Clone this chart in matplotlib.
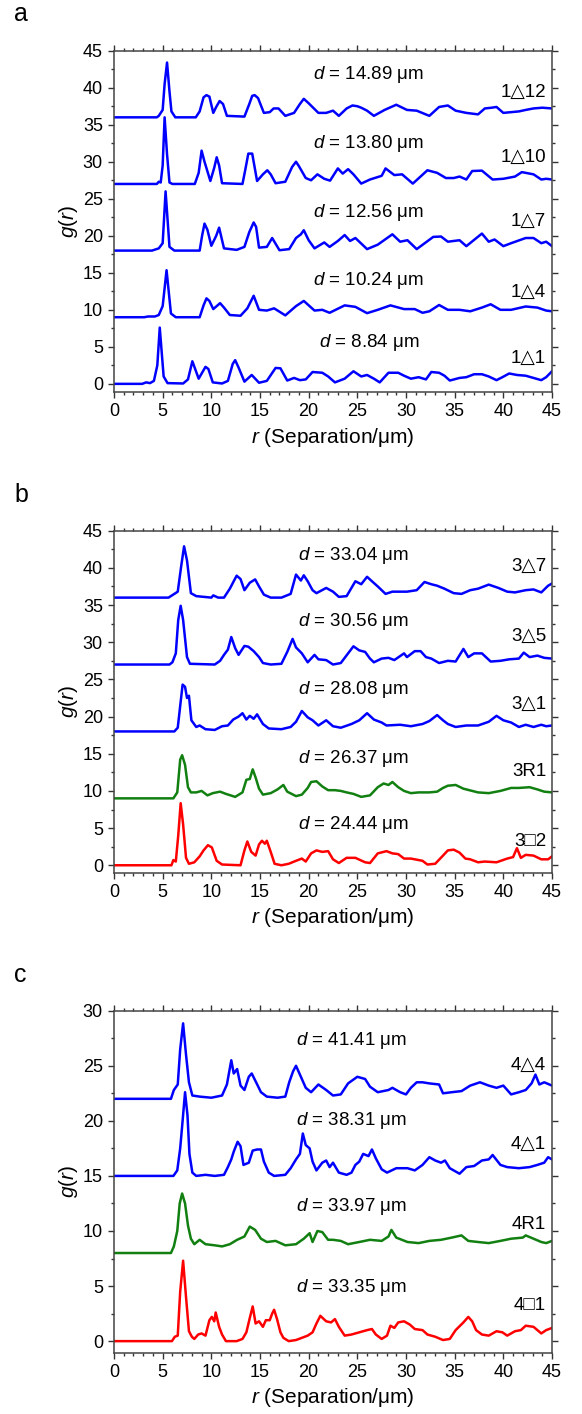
import matplotlib
matplotlib.use("Agg")
import matplotlib.pyplot as plt
from matplotlib.ticker import MultipleLocator

plt.rcParams['font.family'] = ['Liberation Sans', 'DejaVu Sans']
plt.rcParams['mathtext.fontset'] = 'custom'
plt.rcParams['mathtext.rm'] = 'Liberation Sans'
plt.rcParams['mathtext.it'] = 'Liberation Sans:italic'

BLUE = '#0000ff'
GREEN = '#118011'
RED = '#ff0000'

# ---- panel a: 1-series, offsets 36 / 27 / 18 / 9 / 0 ----
r_1t12 = [0, 4.4, 4.6, 5.0, 5.2, 5.45, 5.7, 5.9, 6.3, 8.4, 8.8, 9.2, 9.5, 9.8, 10.2, 10.5, 10.85, 11.2,
          11.6, 13.4, 13.9, 14.2, 14.45, 14.8, 15.4, 16.0, 16.4, 16.9, 17.6, 18.5, 19.1, 19.5, 20.0,
          21.0, 21.8, 22.5, 23.1, 23.9, 24.5, 25.0, 25.4, 26.0, 26.7, 27.8, 29.0, 30.1, 31.1, 32.4,
          33.4, 34.3, 35.1, 36.2, 37.4, 38.1, 38.8, 39.3, 40.0, 41.6, 42.3, 43.1, 44.0, 45.0]
g_1t12 = [36.0, 36.0, 36.2, 37.0, 40.5, 43.4, 39.5, 36.8, 36.0, 36.0, 36.8, 38.7, 39.0, 38.8, 36.6, 37.4,
          38.2, 37.8, 36.2, 36.1, 37.8, 38.9, 39.0, 38.6, 36.6, 36.7, 37.2, 37.2, 36.2, 36.6, 37.8, 38.5,
          37.9, 36.6, 36.6, 36.9, 36.2, 37.2, 37.6, 37.5, 37.3, 36.9, 36.2, 37.0, 37.7, 37.0, 36.9, 36.2,
          37.4, 37.6, 36.9, 36.6, 36.4, 37.2, 37.3, 37.4, 36.6, 36.8, 37.0, 37.2, 37.3, 37.2]

r_1t10 = [0, 4.4, 4.6, 4.8, 5.0, 5.2, 5.45, 5.7, 6.0, 8.3, 8.7, 9.0, 9.3, 9.9, 10.3, 10.55, 10.8, 11.1,
          13.2, 13.5, 13.8, 14.2, 14.7, 15.3, 15.75, 16.1, 16.6, 17.6, 18.3, 18.7, 19.0, 19.7, 20.25,
          20.9, 21.6, 22.2, 23.0, 23.5, 24.05, 24.6, 25.4, 26.3, 27.5, 27.9, 28.8, 29.6, 30.7, 32.2,
          33.2, 34.1, 34.9, 35.5, 36.2, 36.8, 37.8, 38.9, 40.0, 41.2, 41.9, 43.1, 43.9, 44.4, 45.0]
g_1t10 = [27.0, 27.0, 27.3, 27.2, 29.5, 36.0, 31.0, 27.2, 27.0, 27.0, 28.5, 31.5, 30.0, 27.4, 29.2, 30.6,
          29.5, 27.1, 27.0, 29.0, 31.1, 31.1, 27.4, 28.3, 28.85, 28.3, 27.1, 27.3, 29.3, 30.0, 29.4, 27.8,
          27.5, 28.3, 27.7, 27.45, 29.1, 28.4, 29.0, 28.3, 27.05, 27.6, 28.1, 29.1, 28.2, 28.3, 27.05,
          28.85, 28.5, 27.8, 27.8, 28.0, 27.6, 28.75, 28.8, 27.6, 27.7, 28.0, 28.6, 28.3, 27.6, 27.7, 27.6]

r_1t7 = [0, 3.9, 4.6, 5.0, 5.3, 5.7, 6.2, 8.8, 9.05, 9.3, 9.6, 10.0, 10.5, 10.8, 11.3, 12.6, 13.4, 13.9,
         14.35, 14.6, 14.9, 15.7, 16.25, 17.0, 18.0, 18.7, 19.2, 19.5, 20.0, 20.6, 21.6, 22.15, 23.0,
         23.7, 24.25, 24.8, 26.0, 27.1, 28.6, 29.4, 30.15, 31.1, 32.8, 33.6, 34.3, 35.5, 36.2, 37.8,
         38.5, 39.1, 40.0, 40.8, 42.3, 43.1, 43.9, 44.4, 45.0]
g_1t7 = [18.0, 18.0, 18.3, 19.0, 26.0, 18.5, 18.0, 18.0, 20.0, 21.65, 20.8, 18.65, 20.0, 21.1, 18.3,
         18.1, 18.5, 20.5, 21.8, 21.2, 18.4, 18.5, 19.7, 18.05, 18.2, 19.7, 20.2, 20.75, 19.4, 18.3,
         19.1, 18.5, 19.3, 20.1, 19.3, 19.7, 18.2, 18.8, 20.2, 19.2, 19.4, 18.2, 19.85, 19.9, 19.2, 19.4,
         18.6, 20.3, 19.2, 19.5, 18.6, 19.0, 19.7, 19.7, 19.0, 19.2, 18.6]

r_1t4 = [0, 3.1, 3.5, 4.2, 4.6, 5.0, 5.4, 5.85, 6.35, 8.8, 9.2, 9.5, 9.8, 10.2, 10.9, 11.3, 11.9, 13.0,
         13.7, 14.35, 14.9, 15.7, 16.45, 17.6, 18.7, 19.5, 20.6, 21.4, 22.15, 23.7, 24.8, 26.0, 27.1,
         28.4, 29.8, 30.9, 31.7, 32.4, 33.4, 34.3, 35.5, 36.6, 37.8, 38.7, 39.7, 40.8, 42.3, 43.5,
         44.4, 45.0]
g_1t4 = [9.0, 9.0, 9.1, 9.1, 9.3, 10.5, 15.35, 9.5, 9.0, 9.0, 10.6, 11.55, 11.2, 10.1, 10.9, 10.3, 9.3,
         9.2, 10.2, 11.9, 10.0, 9.9, 10.2, 9.25, 10.5, 11.2, 9.9, 10.0, 9.6, 10.6, 10.4, 9.55, 10.0,
         10.6, 10.1, 10.1, 9.6, 9.8, 10.65, 10.0, 10.0, 9.8, 10.3, 10.75, 10.0, 10.0, 10.45, 10.3, 9.9,
         9.8]

r_1t1 = [0, 2.9, 3.3, 3.7, 4.1, 4.45, 4.7, 5.1, 5.5, 7.1, 7.6, 8.05, 8.7, 9.4, 9.7, 10.15, 11.1, 11.7,
         12.2, 12.45, 12.8, 13.4, 14.15, 14.9, 15.7, 16.6, 17.1, 17.8, 18.5, 19.1, 19.7, 20.4, 21.4,
         22.0, 22.7, 23.7, 24.6, 25.4, 26.0, 26.7, 27.3, 28.2, 29.2, 29.8, 30.5, 31.3, 32.05, 32.6,
         33.4, 33.95, 34.5, 35.5, 36.2, 37.0, 37.8, 38.5, 39.3, 39.9, 40.6, 41.4, 42.3, 43.1, 43.9,
         44.4, 45.0]
g_1t1 = [0.0, 0.0, 0.2, 0.1, 0.4, 2.5, 7.6, 1.0, 0.1, 0.05, 0.6, 3.05, 0.7, 2.3, 2.0, 0.2, 0.05, 0.4,
         2.7, 3.2, 2.2, 0.3, 1.2, 0.15, 0.4, 2.15, 2.1, 0.45, 0.8, 0.5, 0.6, 1.6, 1.5, 1.0, 0.2, 0.7,
         1.7, 1.0, 1.2, 0.7, 0.2, 1.5, 1.5, 1.1, 0.7, 0.9, 0.6, 1.6, 1.5, 1.1, 0.45, 0.8, 0.9, 1.3, 1.3,
         1.0, 0.5, 0.9, 1.4, 1.2, 1.1, 0.8, 0.5, 0.9, 1.7]

# ---- panel b: 3-series, offsets 36 / 27 / 18 / 9 / 0 ----
r_3t7 = [0, 5.6, 6.2, 6.55, 6.9, 7.2, 7.5, 7.9, 8.45, 10.0, 10.2, 10.7, 11.3, 11.9, 12.6, 13.0, 13.4,
         13.95, 14.5, 14.9, 15.4, 16.1, 17.2, 18.15, 18.7, 19.2, 19.5, 19.9, 20.4, 20.8, 21.8, 22.5,
         23.1, 23.9, 24.8, 25.4, 26.0, 26.5, 27.1, 27.9, 28.6, 30.1, 31.1, 31.9, 32.6, 33.2, 33.95,
         34.9, 35.7, 36.6, 37.4, 38.5, 39.5, 40.4, 41.2, 42.3, 43.1, 43.9, 44.6, 45.0]
g_3t7 = [36.0, 36.0, 36.5, 36.8, 40.2, 42.9, 41.0, 36.6, 36.2, 36.0, 36.3, 36.0, 36.0, 37.2, 38.95,
         38.5, 37.0, 38.0, 38.45, 37.5, 36.4, 36.0, 36.0, 36.5, 39.1, 38.3, 39.0, 38.2, 37.0, 36.6,
         37.3, 36.8, 36.1, 36.2, 38.2, 37.8, 38.8, 38.2, 37.5, 36.5, 36.8, 36.8, 37.0, 38.1, 37.8,
         37.6, 37.2, 36.6, 36.5, 37.0, 37.2, 37.75, 37.3, 36.8, 36.7, 37.0, 37.1, 36.7, 37.6, 37.9]

r_3t5 = [0, 5.7, 6.0, 6.35, 6.6, 6.85, 7.1, 7.5, 7.8, 10.35, 10.9, 11.3, 11.7, 12.05, 12.45, 12.8,
         13.4, 13.8, 14.35, 14.9, 15.3, 16.1, 17.2, 17.8, 18.35, 18.7, 19.3, 19.9, 20.6, 21.0, 21.8,
         22.5, 23.3, 24.05, 24.6, 25.2, 25.8, 26.3, 26.7, 27.5, 28.2, 28.8, 29.8, 30.1, 30.9, 31.5,
         32.05, 32.6, 33.4, 34.3, 35.1, 35.9, 36.4, 37.0, 37.8, 38.7, 39.7, 40.6, 41.6, 42.1, 42.7,
         43.5, 44.2, 45.0]
g_3t5 = [27.0, 27.0, 27.3, 28.5, 33.0, 34.9, 33.0, 28.0, 27.1, 27.0, 27.5, 28.3, 29.0, 30.7, 29.2,
         28.3, 29.5, 29.4, 28.8, 28.0, 27.2, 27.0, 27.1, 28.7, 30.45, 29.3, 28.5, 27.3, 28.3, 27.7,
         27.6, 27.0, 27.2, 28.5, 29.45, 28.9, 28.7, 27.8, 27.3, 27.8, 27.9, 27.6, 28.5, 28.0, 28.8,
         28.8, 28.0, 27.8, 27.2, 27.5, 27.4, 29.1, 28.0, 28.5, 28.5, 27.4, 27.5, 27.7, 27.8, 28.6,
         28.0, 28.2, 27.9, 27.8]

r_3t1 = [0, 6.2, 6.55, 6.85, 7.05, 7.3, 7.5, 7.7, 7.95, 8.45, 8.8, 9.4, 10.35, 11.1, 11.7, 12.25,
         12.8, 13.2, 13.6, 13.95, 14.35, 14.7, 15.3, 15.9, 17.2, 18.15, 18.7, 19.3, 19.9, 20.4, 21.0,
         21.8, 22.5, 23.3, 24.4, 25.2, 26.0, 26.7, 27.5, 28.0, 29.4, 30.5, 31.7, 32.4, 33.2, 33.8,
         34.3, 35.1, 36.2, 37.4, 38.5, 39.3, 40.0, 40.8, 41.6, 42.3, 43.1, 43.9, 44.4, 45.0]
g_3t1 = [18.0, 18.0, 18.5, 22.0, 24.3, 24.0, 22.5, 22.8, 19.5, 18.6, 18.8, 18.3, 18.2, 18.7, 18.8,
         19.6, 20.0, 20.45, 19.6, 20.1, 19.7, 20.3, 19.0, 18.4, 18.3, 18.6, 19.3, 20.75, 19.9, 19.5,
         18.8, 19.5, 18.7, 18.5, 19.0, 19.5, 20.45, 19.6, 19.2, 18.8, 18.9, 18.7, 19.0, 19.4, 20.2,
         19.5, 19.0, 18.6, 18.8, 18.8, 19.3, 20.1, 19.5, 19.2, 18.6, 18.9, 18.6, 18.9, 18.7, 18.8]

r_3r1 = [0, 6.1, 6.5, 6.8, 7.0, 7.3, 7.6, 7.9, 8.45, 9.0, 9.6, 10.15, 10.9, 11.5, 12.45, 13.2, 13.6,
         13.95, 14.25, 14.55, 14.9, 15.3, 16.1, 16.8, 17.4, 17.8, 18.7, 19.3, 19.9, 20.25, 20.8, 21.4,
         22.0, 22.7, 23.3, 23.9, 24.6, 25.4, 26.3, 27.1, 27.7, 28.2, 28.6, 29.2, 29.8, 30.5, 31.3,
         32.4, 33.2, 33.8, 34.3, 35.1, 35.9, 36.8, 37.4, 38.5, 39.7, 40.8, 41.6, 42.7, 43.5, 44.2, 45.0]
g_3r1 = [9.0, 9.0, 9.8, 14.2, 14.8, 13.5, 10.5, 9.8, 9.8, 10.0, 9.4, 9.7, 9.9, 9.6, 9.2, 9.8, 11.5,
         11.6, 12.9, 11.8, 10.3, 9.5, 9.7, 10.2, 10.8, 9.9, 9.3, 9.5, 10.4, 11.2, 11.3, 10.6, 10.1,
         10.1, 10.0, 9.8, 9.6, 9.2, 9.4, 10.5, 11.0, 10.8, 11.2, 10.5, 10.0, 9.7, 9.8, 9.8, 9.9, 10.4,
         10.7, 10.8, 10.3, 10.0, 9.8, 9.7, 10.0, 10.4, 10.4, 10.5, 10.2, 9.9, 9.8]

r_3s2 = [0, 5.9, 6.1, 6.35, 6.6, 6.85, 7.1, 7.4, 7.7, 8.25, 8.8, 9.2, 9.65, 10.05, 10.55, 11.1, 13.0,
         13.4, 13.7, 14.1, 14.55, 14.9, 15.2, 15.5, 15.7, 16.1, 16.5, 17.2, 17.95, 18.7, 19.3, 19.7,
         20.25, 20.8, 21.4, 22.0, 22.5, 23.1, 23.9, 24.8, 25.8, 26.3, 27.1, 28.0, 28.6, 29.2, 29.8,
         30.5, 31.7, 32.2, 33.0, 33.8, 34.3, 34.9, 35.5, 36.1, 36.6, 37.4, 38.1, 39.3, 40.4, 41.0,
         41.4, 41.8, 42.3, 43.1, 43.9, 44.6, 45.0]
g_3s2 = [0.0, 0.0, 0.7, 0.5, 4.0, 8.35, 5.5, 1.0, 0.2, 0.4, 1.2, 2.0, 2.7, 2.4, 0.6, 0.1, 0.0, 2.0,
         3.2, 1.8, 1.3, 2.8, 3.3, 2.9, 3.3, 1.8, 0.2, 0.0, 0.2, 0.6, 0.9, 0.5, 1.6, 2.0, 1.8, 1.9, 0.8,
         0.3, 1.0, 1.0, 0.4, 0.3, 1.6, 1.9, 1.6, 1.5, 0.9, 0.9, 0.6, 0.1, 0.2, 1.3, 2.0, 2.1, 1.7, 0.9,
         0.8, 0.4, 0.5, 0.4, 0.9, 1.1, 2.3, 1.0, 1.4, 1.3, 0.8, 0.8, 1.2]

# ---- panel c: 4-series, offsets 22 / 15 / 8 / 0 ----
r_4t4 = [0, 5.85, 6.15, 6.55, 6.8, 7.1, 7.4, 7.7, 8.05, 8.8, 10.0, 11.1, 11.6, 12.05, 12.3, 12.65,
         13.0, 13.4, 13.85, 14.15, 14.6, 15.1, 15.7, 16.8, 17.6, 18.0, 18.4, 18.7, 19.1, 19.7, 20.25,
         21.0, 21.8, 22.5, 23.3, 24.05, 25.0, 25.8, 26.3, 27.1, 28.2, 28.6, 29.4, 30.0, 30.5, 31.1,
         31.7, 32.4, 33.4, 33.8, 34.7, 35.7, 36.6, 37.6, 38.5, 39.3, 40.0, 40.8, 41.6, 42.3, 42.9,
         43.3, 43.7, 44.2, 45.0]
g_4t4 = [22.0, 22.0, 22.8, 23.3, 26.5, 28.85, 26.0, 23.5, 22.3, 22.2, 22.1, 22.3, 23.3, 25.5, 24.3,
         24.7, 23.2, 22.8, 24.0, 24.3, 23.5, 22.6, 22.2, 22.1, 22.2, 23.5, 24.5, 25.0, 24.2, 23.0,
         22.6, 23.3, 22.8, 22.3, 22.4, 23.4, 24.0, 23.8, 23.1, 22.6, 22.8, 23.0, 22.6, 22.4, 23.0,
         23.5, 23.5, 23.4, 23.3, 22.5, 22.6, 22.7, 23.2, 23.5, 23.2, 23.0, 23.2, 22.4, 22.6, 22.8,
         23.4, 24.2, 23.3, 23.5, 23.2]

r_4t1 = [0, 6.1, 6.5, 6.8, 7.0, 7.3, 7.55, 7.75, 8.05, 8.45, 9.4, 10.35, 11.3, 11.7, 12.05, 12.3,
         12.7, 13.0, 13.3, 13.85, 14.25, 14.7, 15.1, 15.4, 15.9, 16.45, 17.6, 18.15, 18.7, 19.1, 19.4,
         19.7, 20.1, 20.4, 20.8, 21.4, 21.8, 22.15, 22.5, 23.1, 23.9, 24.4, 24.8, 25.2, 25.6, 26.15,
         26.5, 26.9, 27.5, 28.05, 29.0, 30.15, 30.9, 31.7, 32.4, 33.0, 33.6, 34.0, 34.5, 35.5, 36.2,
         37.0, 37.8, 38.5, 38.9, 39.7, 40.4, 41.6, 42.7, 43.5, 44.2, 44.6, 45.0]
g_4t1 = [15.0, 15.0, 15.5, 17.5, 19.5, 22.6, 20.5, 17.0, 15.3, 15.0, 15.1, 15.0, 15.1, 15.8, 16.5,
         17.2, 18.1, 17.7, 16.0, 16.2, 17.3, 17.4, 17.4, 16.3, 15.3, 15.0, 15.1, 15.7, 16.5, 17.0,
         18.85, 17.8, 17.5, 16.3, 15.5, 16.2, 16.4, 15.8, 16.2, 15.3, 15.1, 15.3, 16.0, 16.3, 17.0,
         16.8, 17.4, 16.6, 15.6, 15.3, 15.7, 15.7, 15.5, 16.0, 16.7, 16.4, 16.2, 16.4, 15.7, 15.2,
         15.8, 15.9, 16.4, 16.5, 16.9, 16.0, 15.8, 15.7, 15.8, 16.0, 16.2, 16.7, 16.5]

r_4r1 = [0, 5.85, 6.15, 6.5, 6.75, 7.0, 7.3, 7.6, 7.9, 8.25, 8.8, 9.4, 10.35, 11.1, 11.9, 12.65, 13.4,
         13.95, 14.5, 15.1, 15.7, 16.6, 17.6, 18.7, 19.5, 20.1, 20.4, 20.9, 21.4, 22.0, 22.5, 23.3,
         24.05, 25.2, 26.3, 27.5, 28.2, 28.5, 29.0, 30.15, 31.3, 32.4, 33.6, 34.7, 35.7, 36.4, 37.4,
         38.5, 39.7, 40.8, 42.0, 42.3, 43.1, 43.9, 44.4, 45.0]
g_4r1 = [8.0, 8.0, 8.6, 10.0, 12.5, 13.4, 12.5, 10.5, 9.3, 8.8, 9.2, 8.8, 8.7, 8.6, 8.8, 9.2, 9.5,
         10.4, 10.1, 9.3, 9.0, 9.1, 8.7, 8.8, 9.3, 9.8, 9.0, 10.0, 9.9, 9.2, 9.2, 9.1, 8.8, 9.0, 9.2,
         9.1, 9.5, 10.1, 9.4, 9.0, 8.9, 9.1, 9.2, 9.4, 9.6, 9.1, 9.0, 8.9, 9.1, 9.3, 9.4, 9.6, 9.3,
         9.0, 8.9, 9.1]

r_4s1 = [0, 5.95, 6.25, 6.55, 6.8, 7.1, 7.4, 7.7, 8.0, 8.25, 8.65, 9.0, 9.4, 9.8, 10.05, 10.3, 10.45,
         10.8, 11.1, 11.5, 12.6, 13.2, 13.6, 13.95, 14.25, 14.55, 14.9, 15.3, 15.6, 16.0, 16.25, 16.45,
         16.75, 17.1, 17.4, 17.95, 18.7, 19.3, 19.9, 20.4, 20.8, 21.2, 21.8, 22.3, 22.7, 23.1, 23.7,
         24.4, 25.2, 26.0, 26.5, 26.9, 27.5, 28.05, 28.4, 28.8, 29.2, 29.8, 30.4, 30.9, 31.7, 32.2,
         33.0, 33.8, 34.5, 35.1, 35.9, 36.4, 36.8, 37.2, 37.8, 38.5, 39.3, 39.9, 40.4, 41.2, 41.8,
         42.3, 43.1, 43.9, 44.4, 45.0]
g_4s1 = [0.0, 0.0, 0.4, 0.5, 4.5, 7.3, 4.0, 0.9, 0.4, 0.2, 0.6, 0.7, 0.5, 1.9, 2.2, 1.8, 2.6, 1.3,
         0.6, 0.0, 0.0, 0.2, 0.8, 2.1, 3.15, 1.6, 1.8, 1.3, 1.9, 1.9, 2.5, 2.85, 2.0, 0.8, 0.3, 0.0,
         0.1, 0.3, 0.5, 0.8, 1.6, 2.3, 1.8, 1.7, 2.0, 1.3, 0.5, 0.6, 0.8, 1.0, 1.1, 0.6, 0.2, 0.5, 1.4,
         1.2, 1.7, 1.8, 1.5, 1.1, 1.0, 0.6, 0.4, 0.1, 0.2, 1.0, 1.7, 2.2, 1.8, 1.0, 0.6, 0.5, 0.9, 0.8,
         0.5, 0.9, 1.0, 1.4, 1.3, 0.7, 1.0, 1.2]

# per curve: r, g, colour, sample name, (name y), d text, (d y)
panel_a = [
    (r_1t12, g_1t12, BLUE, '1\u25B312', 39.4, '14.89', 41.8),
    (r_1t10, g_1t10, BLUE, '1\u25B310', 30.6, '13.80', 32.5),
    (r_1t7, g_1t7, BLUE, '1\u25B37', 21.9, '12.56', 23.1),
    (r_1t4, g_1t4, BLUE, '1\u25B34', 12.4, '10.24', 13.9),
    (r_1t1, g_1t1, BLUE, '1\u25B31', 3.4, '8.84', 5.6),
]
panel_b = [
    (r_3t7, g_3t7, BLUE, '3\u25B37', 40.2, '33.04', 41.6),
    (r_3t5, g_3t5, BLUE, '3\u25B35', 30.8, '30.56', 32.8),
    (r_3t1, g_3t1, BLUE, '3\u25B31', 21.65, '28.08', 23.6),
    (r_3r1, g_3r1, GREEN, '3R1', 12.6, '26.37', 14.4),
    (r_3s2, g_3s2, RED, '3\u25A12', 3.2, '24.44', 5.45),
]
panel_c = [
    (r_4t4, g_4t4, BLUE, '4\u25B34', 25.0, '41.41', 27.3),
    (r_4t1, g_4t1, BLUE, '4\u25B31', 17.9, '38.31', 20.0),
    (r_4r1, g_4r1, GREEN, '4R1', 10.6, '33.97', 12.2),
    (r_4s1, g_4s1, RED, '4\u25A11', 3.2, '33.35', 4.85),
]

W, H = 582, 1414
fig = plt.figure(figsize=(W / 100, H / 100), dpi=100)


def make_axes(top_px, bottom_px):
    left_px, right_px = 114, 552
    return fig.add_axes([left_px / W, 1 - bottom_px / H,
                         (right_px - left_px) / W, (bottom_px - top_px) / H])


def draw_panel(ax, curves, ymax, ymin, d_x, letter, letter_y):
    for r, g, col, name, name_y, dval, d_y in curves:
        ax.plot(r, g, color=col, lw=1.8, solid_joinstyle='round')
        ax.text(44.4, name_y, name, ha='right', va='center', fontsize=13.5)
        ax.text(d_x, d_y, '$d$ = ' + dval + ' \u03bcm', ha='center', va='center', fontsize=13.5)
    ax.set_xlim(0, 45)
    ax.set_ylim(ymin, ymax)
    ax.xaxis.set_major_locator(MultipleLocator(5))
    ax.xaxis.set_minor_locator(MultipleLocator(1))
    ax.yaxis.set_major_locator(MultipleLocator(5))
    ax.yaxis.set_minor_locator(MultipleLocator(2.5))
    ax.tick_params(which='both', direction='out', top=True, right=True,
                   labelsize=13, color='#333333', width=1.0)
    ax.tick_params(which='major', length=4.5)
    ax.tick_params(which='minor', length=2.5)
    for s in ax.spines.values():
        s.set_color('#444444')
        s.set_linewidth(1.1)
    ax.set_xlabel('$r$ (Separation/\u03bcm)', fontsize=15, labelpad=4)
    ax.set_ylabel('$g$($r$)', fontsize=15, labelpad=2)
    fig.text(14 / W, 1 - letter_y / H, letter, fontsize=18, va='baseline', ha='left')


ax_a = make_axes(50.7, 392)
draw_panel(ax_a, panel_a, 45, -1.1, 26.2, 'a', 21)

ax_b = make_axes(530.7, 872.7)
draw_panel(ax_b, panel_b, 45, -1.0, 24.6, 'b', 502)

ax_c = make_axes(1010.7, 1352.7)
draw_panel(ax_c, panel_c, 30, -1.05, 24.4, 'c', 982)

fig.savefig('out.png', dpi=100)
